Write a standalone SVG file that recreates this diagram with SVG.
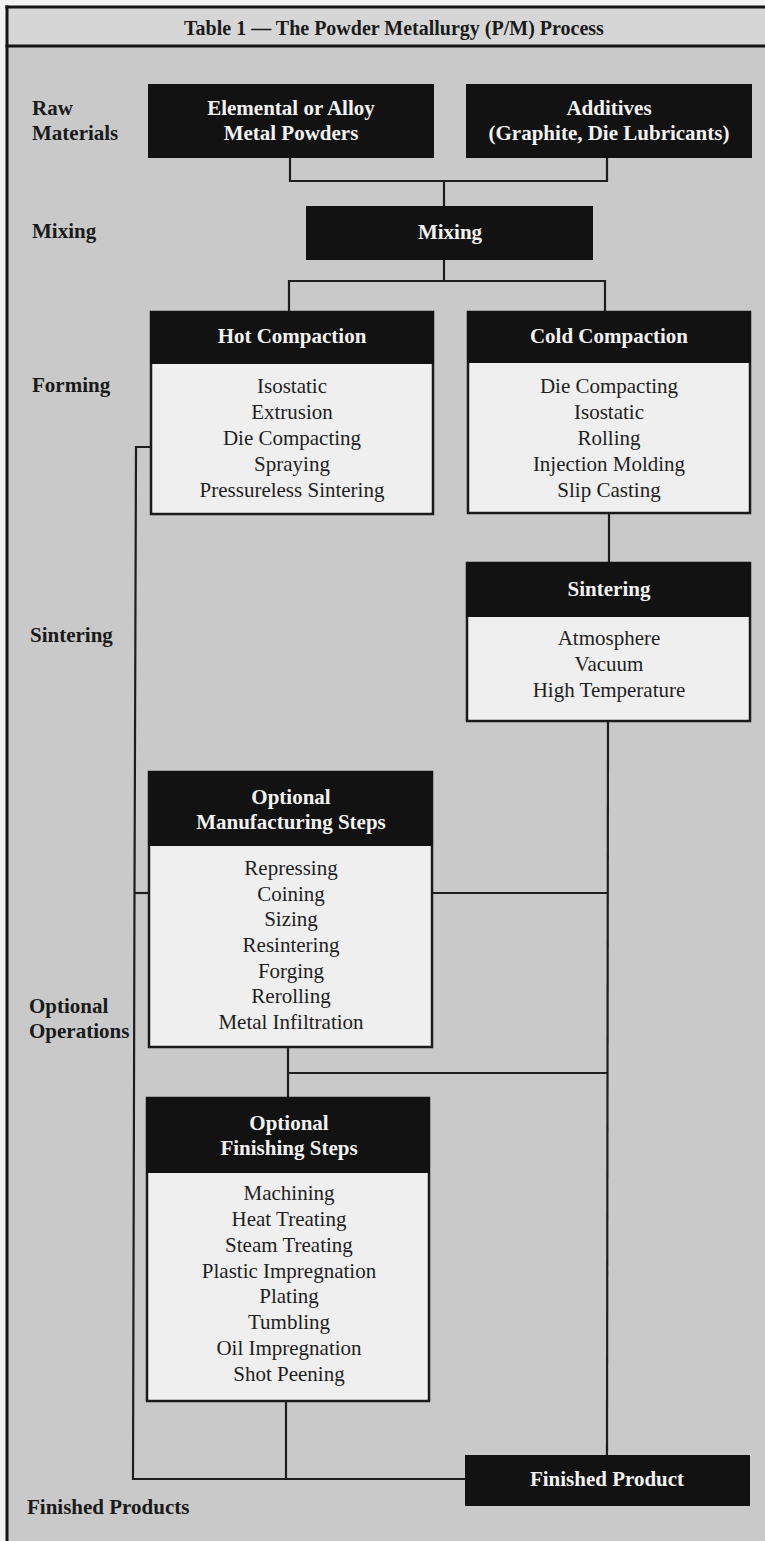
<svg xmlns="http://www.w3.org/2000/svg" width="765" height="1541" viewBox="0 0 765 1541">
<style>
.lbl{font-family:"Liberation Serif","Times New Roman",serif;font-weight:bold;font-size:21px;fill:#1a1a1a}
.hd{font-family:"Liberation Serif","Times New Roman",serif;font-weight:bold;font-size:21px;fill:#f2f2f2;text-anchor:middle}
.it{font-family:"Liberation Serif","Times New Roman",serif;font-size:21px;fill:#1e1e1e;text-anchor:middle}
.blk{fill:#121212;stroke:#121212;stroke-width:2}
.wht{fill:#efefef;stroke:#1a1a1a;stroke-width:2.5}
.con{fill:none;stroke:#1e1e1e;stroke-width:2.2}
</style>
<rect x="0" y="0" width="765" height="1541" fill="#f2f2f2"/>
<rect x="7" y="7" width="760" height="1536" fill="#c9c9c9"/>
<rect x="7" y="7" width="760" height="39" fill="#d6d6d6"/>
<g id="frame" fill="none" stroke="#151515" stroke-width="3">
<line x1="5.5" y1="7" x2="767" y2="7"/>
<line x1="5.5" y1="46" x2="767" y2="46"/>
<line x1="7" y1="5.5" x2="7" y2="1541"/>
</g>
<text id="title" x="394" y="35" class="lbl" font-size="20" text-anchor="middle" style="font-size:20px">Table 1 — The Powder Metallurgy (P/M) Process</text>
<g id="stage-labels">
<text class="lbl" x="32" y="115">Raw</text>
<text class="lbl" x="32" y="140">Materials</text>
<text class="lbl" x="32" y="238">Mixing</text>
<text class="lbl" x="32" y="392">Forming</text>
<text class="lbl" x="30" y="642">Sintering</text>
<text class="lbl" x="29" y="1013">Optional</text>
<text class="lbl" x="29" y="1038">Operations</text>
<text class="lbl" x="27" y="1514">Finished Products</text>
</g>
<g id="connectors" class="con">
<polyline points="290,157 290,181 607,181 607,157"/>
<line x1="444" y1="181" x2="444" y2="207"/>
<line x1="444" y1="259" x2="444" y2="281"/>
<polyline points="289,312 289,281 605,281 605,312"/>
<polyline points="151,447 136,447 134.5,893"/>
<polyline points="134.5,893 133,1479 466,1479"/>
<line x1="134.5" y1="893" x2="149" y2="893"/>
<line x1="609" y1="513" x2="609" y2="563"/>
<line x1="608" y1="721" x2="607" y2="1456"/>
<line x1="432" y1="893" x2="608" y2="893"/>
<line x1="288" y1="1047" x2="288" y2="1098"/>
<line x1="288" y1="1073" x2="608" y2="1073"/>
<line x1="286" y1="1401" x2="286" y2="1479"/>
</g>
<g id="node-elemental">
<rect class="blk" x="149" y="85" width="284" height="72"/>
<text class="hd" x="291" y="115">Elemental or Alloy</text>
<text class="hd" x="291" y="140">Metal Powders</text>
</g>
<g id="node-additives">
<rect class="blk" x="467" y="85" width="284" height="72"/>
<text class="hd" x="609" y="115">Additives</text>
<text class="hd" x="609" y="140">(Graphite, Die Lubricants)</text>
</g>
<g id="node-mixing">
<rect class="blk" x="307" y="207" width="285" height="52"/>
<text class="hd" x="450" y="239">Mixing</text>
</g>
<g id="node-hot">
<rect class="wht" x="151" y="312" width="282" height="202"/>
<rect class="blk" x="151" y="312" width="282" height="51"/>
<text class="hd" x="292" y="343">Hot Compaction</text>
<text class="it" x="292" y="393">Isostatic</text>
<text class="it" x="292" y="419">Extrusion</text>
<text class="it" x="292" y="445">Die Compacting</text>
<text class="it" x="292" y="471">Spraying</text>
<text class="it" x="292" y="497">Pressureless Sintering</text>
</g>
<g id="node-cold">
<rect class="wht" x="468" y="312" width="282" height="201"/>
<rect class="blk" x="468" y="312" width="282" height="50"/>
<text class="hd" x="609" y="343">Cold Compaction</text>
<text class="it" x="609" y="393">Die Compacting</text>
<text class="it" x="609" y="419">Isostatic</text>
<text class="it" x="609" y="445">Rolling</text>
<text class="it" x="609" y="471">Injection Molding</text>
<text class="it" x="609" y="497">Slip Casting</text>
</g>
<g id="node-sintering">
<rect class="wht" x="467" y="563" width="283" height="158"/>
<rect class="blk" x="467" y="563" width="283" height="53"/>
<text class="hd" x="609" y="596">Sintering</text>
<text class="it" x="609" y="645">Atmosphere</text>
<text class="it" x="609" y="671">Vacuum</text>
<text class="it" x="609" y="697">High Temperature</text>
</g>
<g id="node-manufacturing">
<rect class="wht" x="149" y="772" width="283" height="275"/>
<rect class="blk" x="149" y="772" width="283" height="73"/>
<text class="hd" x="291" y="804">Optional</text>
<text class="hd" x="291" y="829">Manufacturing Steps</text>
<text class="it" x="291" y="875">Repressing</text>
<text class="it" x="291" y="901">Coining</text>
<text class="it" x="291" y="926">Sizing</text>
<text class="it" x="291" y="952">Resintering</text>
<text class="it" x="291" y="978">Forging</text>
<text class="it" x="291" y="1003">Rerolling</text>
<text class="it" x="291" y="1029">Metal Infiltration</text>
</g>
<g id="node-finishing">
<rect class="wht" x="147" y="1098" width="282" height="303"/>
<rect class="blk" x="147" y="1098" width="282" height="74"/>
<text class="hd" x="289" y="1130">Optional</text>
<text class="hd" x="289" y="1155">Finishing Steps</text>
<text class="it" x="289" y="1200">Machining</text>
<text class="it" x="289" y="1226">Heat Treating</text>
<text class="it" x="289" y="1252">Steam Treating</text>
<text class="it" x="289" y="1278">Plastic Impregnation</text>
<text class="it" x="289" y="1303">Plating</text>
<text class="it" x="289" y="1329">Tumbling</text>
<text class="it" x="289" y="1355">Oil Impregnation</text>
<text class="it" x="289" y="1381">Shot Peening</text>
</g>
<g id="node-finished">
<rect class="blk" x="466" y="1456" width="283" height="49"/>
<text class="hd" x="607" y="1486">Finished Product</text>
</g>
</svg>
